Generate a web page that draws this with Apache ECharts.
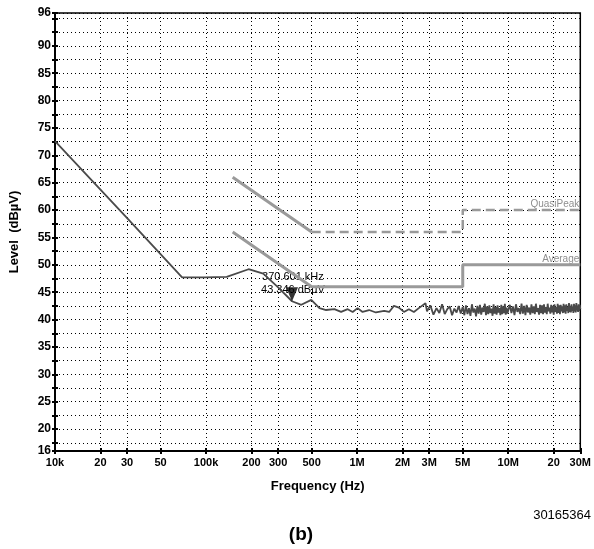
<!DOCTYPE html>
<html>
<head>
<meta charset="utf-8">
<script src="https://cdn.jsdelivr.net/npm/echarts@6/dist/echarts.min.js"></script>
<style>
html, body { margin: 0; padding: 0; background: #fff; }
#chart { width: 594px; height: 549px; }
</style>
</head>
<body>
<div id="chart"></div>
<script>
'use strict';

// frequency axis ticks (Hz) and the labels printed under them
var freqTicks = [1e4, 2e4, 3e4, 5e4, 1e5, 2e5, 3e5, 5e5, 1e6, 2e6, 3e6, 5e6, 1e7, 2e7, 3e7];
var freqTickLabels = ['10k', '20', '30', '50', '100k', '200', '300', '500', '1M', '2M', '3M', '5M', '10M', '20', '30M'];

// level axis: labelled values and the finer tick / grid steps
var levelLabels = [16, 20, 25, 30, 35, 40, 45, 50, 55, 60, 65, 70, 75, 80, 85, 90, 96];
var levelTicks = [16, 17.5, 20, 22.5, 25, 27.5, 30, 32.5, 35, 37.5, 40, 42.5, 45, 47.5, 50, 52.5,
    55, 57.5, 60, 62.5, 65, 67.5, 70, 72.5, 75, 77.5, 80, 82.5, 85, 87.5, 90, 92.5, 95, 96];

// measured trace below 3 MHz (kHz, dBuV)
var traceFreqKHz = [10, 29.4, 69.4, 98, 137, 191, 239, 300, 370.601, 427, 497, 563, 623, 707, 783,
    866, 934, 1007, 1086, 1200, 1330, 1510, 1630, 1750, 1890, 2040, 2200, 2374, 2560, 2834];
var traceLevel = [72.6, 58.8, 47.7, 47.7, 47.8, 49.2, 48.4, 45.9, 43.35, 42.7, 43.6, 42.1, 41.75, 41.9, 41.4,
    41.9, 41.4, 42.1, 41.4, 41.75, 41.3, 41.6, 41.4, 42.5, 42.2, 41.4, 41.9, 41.4, 42.1, 43.0];

// measured trace, noisy floor 2.9 - 30 MHz (MHz, dBuV)
var floorFreqMHz = [2.9, 3.05, 3.2, 3.35, 3.5, 3.65, 3.8, 3.95, 4.1, 4.25, 4.4, 4.55, 4.7, 4.85,
    5.0, 5.125, 5.25, 5.375, 5.5, 5.625, 5.75, 5.875, 6.0, 6.125, 6.25, 6.375, 6.5, 6.625, 6.75, 6.875,
    7.0, 7.125, 7.25, 7.375, 7.5, 7.625, 7.75, 7.875, 8.0, 8.125, 8.25, 8.375, 8.5, 8.625, 8.75, 8.875,
    9.0, 9.125, 9.25, 9.375, 9.5, 9.625, 9.75, 9.875,
    10.0, 10.25, 10.5, 10.75, 11.0, 11.25, 11.5, 11.75, 12.0, 12.25, 12.5, 12.75, 13.0, 13.25, 13.5, 13.75,
    14.0, 14.25, 14.5, 14.75, 15.0, 15.25, 15.5, 15.75, 16.0, 16.25, 16.5, 16.75, 17.0, 17.25, 17.5, 17.75,
    18.0, 18.25, 18.5, 18.75, 19.0, 19.25, 19.5, 19.75, 20.0, 20.25, 20.5, 20.75, 21.0, 21.25, 21.5, 21.75,
    22.0, 22.25, 22.5, 22.75, 23.0, 23.25, 23.5, 23.75, 24.0, 24.25, 24.5, 24.75, 25.0, 25.25, 25.5, 25.75,
    26.0, 26.25, 26.5, 26.75, 27.0, 27.25, 27.5, 27.75, 28.0, 28.25, 28.5, 28.75, 29.0, 29.25, 29.5, 29.75,
    30.0];
var floorLevel = [41.5, 42.6, 40.9, 42.1, 41.2, 42.8, 41.0, 41.9, 42.4, 40.8, 42.0, 41.3, 42.5, 41.1,
    42.3, 40.8, 42.6, 41.0, 42.1, 40.7, 42.8, 41.3, 42.0, 40.6,
    42.5, 41.1, 42.7, 40.9, 42.2, 41.4, 42.9, 40.8, 42.4, 41.0,
    42.6, 41.2, 42.0, 40.7, 42.8, 41.1, 42.3, 40.9, 42.6, 41.3,
    42.1, 40.8, 42.7, 41.0, 42.4, 41.2, 42.9, 40.9, 42.2, 41.1,
    40.9, 42.7, 41.2, 42.4, 40.8, 42.8, 41.4, 42.1, 41.0, 42.9,
    41.1, 42.5, 40.8, 42.7, 41.3, 42.2, 40.9, 42.8, 41.2, 42.4,
    41.0, 42.9, 41.4, 42.1, 40.9, 42.7, 41.2, 42.6, 41.0, 42.8,
    41.3, 42.3, 41.0, 42.9, 41.5, 42.2, 41.1, 42.7, 41.3, 42.5,
    40.9, 42.8, 41.4, 42.3, 41.1, 42.9, 41.2, 42.6, 41.0, 42.7,
    41.5, 42.4, 41.2, 42.9, 41.3, 42.6, 41.1, 42.8, 41.6, 42.3,
    41.2, 43.0, 41.4, 42.5, 41.3, 42.8, 41.6, 42.4, 41.2, 42.9,
    41.5, 42.6, 41.3, 43.0, 41.7, 42.5, 41.4, 42.8, 41.6, 42.7,
    41.9];

// limit lines (kHz, dBuV)
var qpSlopeFreqKHz = [150, 500];
var qpSlopeLevel = [66, 56];
var qpFlatFreqKHz = [500, 5000, 5000, 30000];
var qpFlatLevel = [56, 56, 60, 60];
var avgFreqKHz = [150, 500, 5000, 5000, 30000];
var avgLevel = [56, 46, 46, 50, 50];

// marker readout
var markerFreqKHz = 370.601;
var markerLevel = 43.346;

var lg = Math.log10;
var xMin = lg(1e4);
var xMax = lg(3e7);
var freqTickPos = freqTicks.map(lg);

function pairs(freqs, levels, scale) {
    var out = [];
    for (var i = 0; i < freqs.length; i++) {
        out.push([lg(freqs[i] * scale), levels[i]]);
    }
    return out;
}

var traceData = pairs(traceFreqKHz, traceLevel, 1e3).concat(pairs(floorFreqMHz, floorLevel, 1e6));

var labelFont = 'Liberation Sans, Arial, sans-serif';
var gridDots = { color: '#000', width: 1, type: [1, 3] };

var chart = echarts.init(document.getElementById('chart'));

var option = {
    animation: false,
    backgroundColor: '#fff',
    textStyle: { fontFamily: labelFont },
    grid: {
        left: 52, right: 13, top: 13, bottom: 98,
        show: true, borderColor: '#000', borderWidth: 1.5, backgroundColor: 'transparent'
    },
    xAxis: [
        {
            type: 'value', min: xMin, max: xMax, position: 'bottom',
            name: 'Frequency (Hz)', nameLocation: 'middle', nameGap: 29,
            nameTextStyle: { fontSize: 13, fontWeight: 'bold', color: '#000', fontFamily: labelFont },
            axisLine: { lineStyle: { color: '#000', width: 2 } },
            axisTick: { length: 3, lineStyle: { color: '#000', width: 2 }, customValues: freqTickPos },
            axisLabel: {
                customValues: freqTickPos, margin: 6, fontSize: 11, fontWeight: 'bold', color: '#000',
                fontFamily: labelFont,
                formatter: function (v) {
                    for (var i = 0; i < freqTickPos.length; i++) {
                        if (Math.abs(freqTickPos[i] - v) < 1e-6) return freqTickLabels[i];
                    }
                    return '';
                }
            },
            splitLine: { show: true, lineStyle: gridDots }
        },
        {
            type: 'value', min: xMin, max: xMax, position: 'bottom',
            axisLine: { show: false },
            axisTick: { show: true, inside: true, length: 3, lineStyle: { color: '#000', width: 2 }, customValues: freqTickPos },
            axisLabel: { show: false },
            splitLine: { show: false }
        }
    ],
    yAxis: [
        {
            type: 'value', min: 16, max: 96, position: 'left',
            name: 'Level  (dBµV)', nameLocation: 'middle', nameGap: 34,
            nameTextStyle: { fontSize: 13, fontWeight: 'bold', color: '#000', fontFamily: labelFont },
            axisLine: { lineStyle: { color: '#000', width: 2 } },
            axisTick: { length: 3, lineStyle: { color: '#000', width: 2 }, customValues: levelTicks },
            axisLabel: {
                customValues: levelLabels, margin: 4, fontSize: 12, fontWeight: 'bold', color: '#000',
                fontFamily: labelFont
            },
            splitLine: { show: true, lineStyle: gridDots }
        },
        {
            type: 'value', min: 16, max: 96, position: 'left',
            axisLine: { show: false },
            axisTick: { show: true, inside: true, length: 3, lineStyle: { color: '#000', width: 2 }, customValues: levelTicks },
            axisLabel: { show: false },
            splitLine: { show: false }
        }
    ],
    series: [
        {
            name: 'QuasiPeak slope', type: 'line', symbol: 'none', silent: true,
            data: pairs(qpSlopeFreqKHz, qpSlopeLevel, 1e3),
            lineStyle: { color: '#9a9a9a', width: 3 }
        },
        {
            name: 'QuasiPeak', type: 'line', symbol: 'none', silent: true,
            data: pairs(qpFlatFreqKHz, qpFlatLevel, 1e3),
            lineStyle: { color: '#9a9a9a', width: 2.5, type: [9, 5] }
        },
        {
            name: 'Average', type: 'line', symbol: 'none', silent: true,
            data: pairs(avgFreqKHz, avgLevel, 1e3),
            lineStyle: { color: '#9a9a9a', width: 3 }
        },
        {
            name: 'Trace', type: 'line', symbol: 'none', silent: true,
            data: traceData,
            lineStyle: { color: '#4a4a4a', width: 1.8 }
        },
        {
            name: 'Marker', type: 'scatter', silent: true,
            symbol: 'path://M0 0 L12 0 L6 14 Z', symbolSize: [12, 14], symbolOffset: [0, -7],
            itemStyle: { color: '#000' },
            data: [[lg(markerFreqKHz * 1e3), markerLevel]],
            z: 5
        }
    ]
};
chart.setOption(option);

// texts pinned to data positions
var qpEnd = chart.convertToPixel({ gridIndex: 0 }, [xMax, qpFlatLevel[qpFlatLevel.length - 1]]);
var avgEnd = chart.convertToPixel({ gridIndex: 0 }, [xMax, avgLevel[avgLevel.length - 1]]);
var mk = chart.convertToPixel({ gridIndex: 0 }, [lg(markerFreqKHz * 1e3), markerLevel]);

chart.setOption({
    graphic: [
        {
            type: 'text', x: qpEnd[0] - 1, y: qpEnd[1] - 1,
            style: { text: 'QuasiPeak', fill: '#8f8f8f', font: '10px ' + labelFont, align: 'right', verticalAlign: 'bottom' }
        },
        {
            type: 'text', x: avgEnd[0] - 1, y: avgEnd[1] - 1,
            style: { text: 'Average', fill: '#8f8f8f', font: '10px ' + labelFont, align: 'right', verticalAlign: 'bottom' }
        },
        {
            type: 'text', x: mk[0] - 30, y: mk[1] - 24,
            style: { text: '370.601 kHz', fill: '#000', font: '11px ' + labelFont, align: 'left', verticalAlign: 'middle' }
        },
        {
            type: 'text', x: mk[0] - 31, y: mk[1] - 11,
            style: { text: '43.346 dBµV', fill: '#000', font: '11px ' + labelFont, align: 'left', verticalAlign: 'middle' }
        },
        {
            type: 'text', x: 301, y: 535,
            style: { text: '(b)', fill: '#000', font: 'bold 19px ' + labelFont, align: 'center', verticalAlign: 'middle' }
        },
        {
            type: 'text', right: 3, top: 509,
            style: { text: '30165364', fill: '#000', font: '13px ' + labelFont }
        }
    ]
});
</script>
</body>
</html>
